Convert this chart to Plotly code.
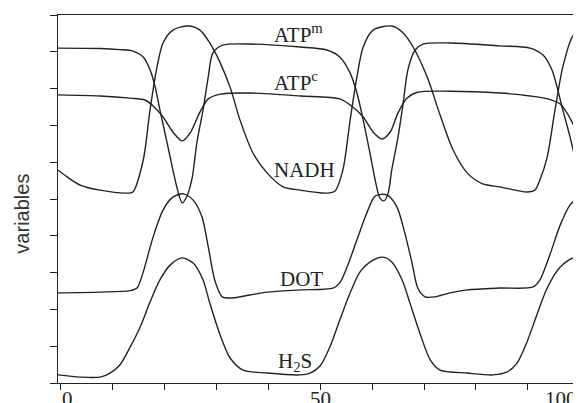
import plotly.graph_objects as go

# ---- data ----
atpm_t = [-0.4, 7.7, 11.5, 14.0, 16.0, 17.3, 18.3, 19.2, 20.6, 21.7, 22.7, 23.5, 24.4, 25.4, 26.3, 27.5, 28.5, 29.4, 31.3, 36.5,
          46.2, 51.3, 53.8, 55.8, 57.1, 58.3, 59.6, 60.6, 61.5, 62.3, 63.1, 63.8, 65.0, 66.0, 66.9, 68.3, 69.8, 75.0,
          84.6, 90.4, 92.9, 94.6, 95.6, 96.7, 98.1, 99.4, 100.2]
atpm_v = [9.10, 9.09, 9.06, 9.02, 8.86, 8.51, 8.04, 7.42, 6.52, 5.79, 5.19, 4.89, 5.08, 5.57, 6.52, 7.42, 8.32, 8.97, 9.18, 9.21,
          9.13, 9.05, 8.86, 8.42, 7.88, 7.15, 6.25, 5.52, 5.03, 4.95, 5.16, 5.79, 6.68, 7.61, 8.51, 9.05, 9.21, 9.24,
          9.16, 9.10, 8.91, 8.51, 8.04, 7.42, 6.68, 5.87, 5.24]

atpc_t = [-0.4, 7.7, 13.5, 16.3, 17.9, 19.8, 21.7, 23.5, 25.0, 26.9, 28.5, 30.8, 36.5, 46.2, 53.8, 56.3, 58.3, 60.2, 61.9,
          63.5, 65.0, 66.7, 68.7, 75.0, 84.6, 90.4, 93.8, 96.2, 97.5, 99.0, 100.2]
atpc_v = [7.83, 7.80, 7.74, 7.69, 7.53, 7.23, 6.82, 6.58, 6.79, 7.36, 7.72, 7.85, 7.88, 7.80, 7.72, 7.50, 7.23, 6.82, 6.63,
          6.82, 7.34, 7.74, 7.90, 7.93, 7.88, 7.80, 7.72, 7.58, 7.34, 6.96, 6.74]

nadh_t = [-0.4, 1.35, 3.85, 7.7, 12.9, 14.0, 16.0, 17.3, 18.65, 19.8, 21.7, 24.6, 26.9, 28.8, 30.8, 32.7, 34.6, 37.1, 39.8,
          42.9, 46.2, 51.3, 52.9, 54.4, 55.8, 57.1, 58.3, 60.2, 63.8, 66.0, 67.9, 70.6, 73.1, 75.6, 78.3, 81.3, 84.6,
          89.8, 91.3, 92.3, 93.7, 95.2, 96.7, 98.5, 100.2]
nadh_v = [5.79, 5.60, 5.38, 5.24, 5.16, 5.19, 6.06, 7.42, 8.59, 9.24, 9.59, 9.70, 9.59, 9.24, 8.70, 8.04, 7.15, 6.25, 5.71,
          5.33, 5.24, 5.16, 5.22, 5.79, 7.15, 8.32, 9.13, 9.59, 9.70, 9.51, 9.13, 8.32, 7.28, 6.33, 5.71, 5.41, 5.33,
          5.19, 5.24, 5.52, 6.14, 7.42, 8.59, 9.40, 9.67]

dot_t = [-0.4, 7.7, 13.5, 14.8, 16.0, 17.9, 19.8, 21.7, 23.7, 25.6, 27.3, 28.5, 29.8, 31.2, 33.1, 36.5, 39.8, 46.2, 52.5,
         53.8, 55.2, 57.1, 59.0, 60.6, 62.9, 64.8, 66.3, 67.7, 68.8, 70.2, 72.1, 75.0, 78.3, 84.6, 91.0, 92.3, 94.2,
         96.2, 98.1, 100.2]
dot_v = [2.45, 2.47, 2.51, 2.58, 3.02, 3.97, 4.70, 5.05, 5.14, 4.97, 4.51, 3.70, 2.77, 2.34, 2.31, 2.39, 2.47, 2.53, 2.58,
         2.72, 3.15, 3.89, 4.62, 5.08, 5.11, 4.78, 4.08, 3.26, 2.58, 2.34, 2.34, 2.45, 2.53, 2.58, 2.61, 2.80, 3.48,
         4.29, 4.84, 5.11]

h2s_t = [-0.4, 3.85, 7.7, 9.6, 11.5, 13.5, 15.4, 17.3, 19.2, 21.2, 23.5, 25.6, 27.5, 28.8, 30.8, 32.7, 35.2, 39.8, 46.2,
         48.1, 50.0, 51.9, 53.8, 55.8, 57.7, 60.2, 62.1, 63.8, 65.8, 67.3, 69.2, 71.2, 73.1, 78.3, 83.3, 86.0, 87.9,
         89.8, 91.7, 93.7, 96.2, 98.7, 100.2]
h2s_v = [0.22, 0.16, 0.16, 0.27, 0.49, 0.98, 1.52, 2.20, 2.80, 3.21, 3.40, 3.26, 2.80, 2.17, 1.30, 0.68, 0.35, 0.27, 0.22,
         0.27, 0.46, 0.98, 1.71, 2.45, 3.02, 3.34, 3.42, 3.29, 2.80, 2.17, 1.36, 0.63, 0.35, 0.27, 0.22, 0.30, 0.54,
         1.11, 1.85, 2.58, 3.15, 3.40, 3.42]

series_names = ["ATP<sup>m</sup>", "ATP<sup>c</sup>", "NADH", "DOT", "H<sub>2</sub>S"]
label_x = [40.8, 40.8, 40.8, 41.9, 41.5]
label_y = [9.50, 8.18, 5.79, 2.83, 0.57]

tick_vals = [0, 50, 100]
tick_text = ["0", "50", "100"]

LINE = "#222222"
fig = go.Figure()
for t, v, name in [(atpm_t, atpm_v, series_names[0]), (atpc_t, atpc_v, series_names[1]),
                   (nadh_t, nadh_v, series_names[2]), (dot_t, dot_v, series_names[3]),
                   (h2s_t, h2s_v, series_names[4])]:
    fig.add_trace(go.Scatter(x=t, y=v, mode="lines", name=name,
                             line=dict(color=LINE, width=1.4, shape="spline", smoothing=0.8),
                             showlegend=False, hoverinfo="skip"))

serif = "Liberation Serif, Times New Roman, serif"
for name, lx, ly in zip(series_names, label_x, label_y):
    fig.add_annotation(x=lx, y=ly, xref="x", yref="y", text=name, showarrow=False,
                       xanchor="left", yanchor="middle",
                       font=dict(family=serif, size=21, color="#222"))

shifts = [7, 0, -19]
for tv, tt, sh in zip(tick_vals, tick_text, shifts):
    fig.add_annotation(x=tv, y=0, xref="x", yref="paper", text=tt, showarrow=False,
                       xanchor="center", yanchor="top", xshift=sh, yshift=-2,
                       font=dict(family=serif, size=21, color="#222"))

fig.add_annotation(x=-0.069, y=0.46, xref="paper", yref="paper", text="variables",
                   showarrow=False, textangle=-90, xanchor="center", yanchor="middle",
                   font=dict(family="Liberation Sans, Arial, sans-serif", size=20, color="#333"))

# the page body has an 8px default margin, so the figure is sized/offset to compensate
fig.update_layout(
    width=573, height=395,
    margin=dict(l=50, r=0, t=7, b=20),
    paper_bgcolor="white", plot_bgcolor="white",
    xaxis=dict(range=[-0.4, 100.2], tick0=0, dtick=10, ticks="outside", ticklen=6,
               tickcolor=LINE, tickwidth=1.2, showticklabels=False, showgrid=False,
               zeroline=False, showline=True, linecolor=LINE, linewidth=1.3, mirror=True),
    yaxis=dict(range=[0, 10], tick0=0, dtick=1, ticks="outside", ticklen=7,
               tickcolor=LINE, tickwidth=1.2, showticklabels=False, showgrid=False,
               zeroline=False, showline=True, linecolor=LINE, linewidth=1.3),
)

fig.write_html("out.html")
